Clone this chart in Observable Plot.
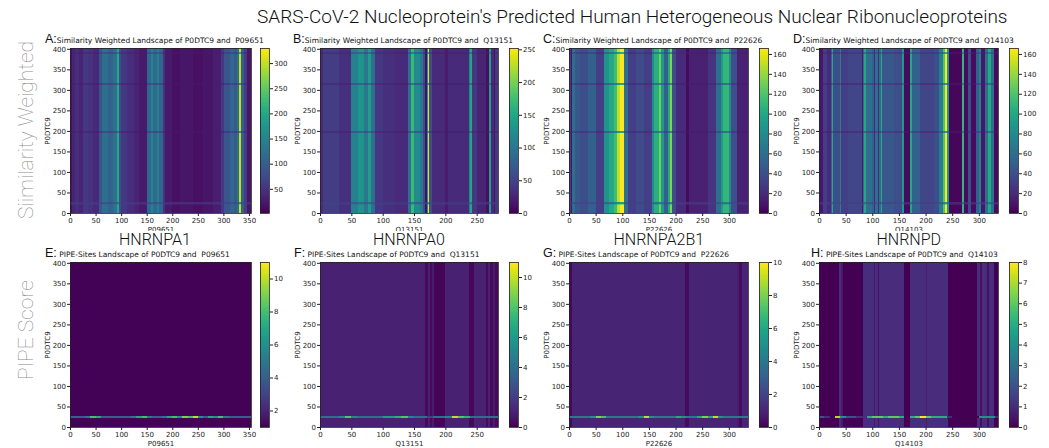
<!DOCTYPE html>
<html><head><meta charset="utf-8">
<script src="https://cdn.jsdelivr.net/npm/d3@7"></script>
<script src="https://cdn.jsdelivr.net/npm/@observablehq/plot@0.6"></script>
<style>
body{margin:0;background:#fff;}
#fig{position:relative;width:1049px;height:448px;overflow:hidden;background:#fff;}
#fig svg{position:absolute;}
.txt{position:absolute;white-space:pre;color:#111;}
.main{font-family:Roboto,"Liberation Sans",sans-serif;font-weight:300;font-size:19px;}
.row{font-family:Roboto,"Liberation Sans",sans-serif;font-weight:100;font-size:21px;color:#8a8a8a;transform-origin:0 0;}
.gene{font-family:Roboto,"Liberation Sans",sans-serif;font-weight:300;font-size:16px;}
.pt{display:flex;align-items:baseline;}
.pt .l{font-family:"Liberation Sans",sans-serif;font-size:12.5px;}
.pt .s{font-family:"DejaVu Sans",sans-serif;font-size:7.5px;}
</style></head><body><div id="fig"></div>
<script>
// ---------- data ----------
const mainTitle = "SARS-CoV-2 Nucleoprotein's Predicted Human Heterogeneous Nuclear Ribonucleoproteins";
const rowLabels = ["Siimilarity Weighted", "PIPE Score"];
const query = "P0DTC9";
const proteins = ["P09651", "Q13151", "P22626", "Q14103"];
const genes = ["HNRNPA1", "HNRNPA0", "HNRNPA2B1", "HNRNPD"];
const topLetters = ["A:", "B:", "C:", "D:"];
const botLetters = ["E:", "F:", "G:", "H:"];
const xExtent = [354, 284, 336, 336];
const yExtent = 402;
const xTickSets = [[0,50,100,150,200,250,300,350],[0,50,100,150,200,250],[0,50,100,150,200,250,300],[0,50,100,150,200,250,300]];
const yTicks = [0,50,100,150,200,250,300,350,400];

// similarity weighted: column segments [x1, x2, value]
const swA = [[0,4,15],[4,10,35],[10,18,45],[18,25,35],[25,35,55],[35,45,50],[45,57,40],[57,62,90],[62,75,120],[75,85,105],[85,92,125],[92,95,200],[95,99,80],[99,112,55],[112,125,45],[125,135,35],[135,150,25],[150,158,110],[158,163,150],[163,170,115],[170,175,145],[175,181,110],[181,186,50],[186,200,25],[200,215,15],[215,240,20],[240,260,15],[260,280,20],[280,295,30],[295,302,55],[302,312,90],[312,320,110],[320,326,95],[326,331,120],[331,335,300],[335,340,100],[340,346,60],[346,354,20]];
const swB = [[0,5,30],[5,30,45],[30,50,35],[50,60,110],[60,70,130],[70,76,100],[76,82,140],[82,88,90],[88,100,40],[100,120,35],[120,140,30],[140,145,90],[145,150,170],[150,160,120],[160,165,100],[165,168,60],[168,170,8],[170,172,120],[172,174,240],[174,178,60],[178,200,30],[200,205,18],[205,238,30],[238,240,110],[240,243,150],[243,250,40],[250,265,25],[265,270,10],[270,273,140],[273,278,30],[278,280,12],[280,284,40]];
const swC = [[0,3,30],[3,6,8],[6,12,60],[12,20,45],[20,35,40],[35,50,50],[50,65,30],[65,75,85],[75,85,100],[85,90,115],[90,95,150],[95,103,165],[103,110,60],[110,125,30],[125,140,38],[140,155,30],[155,160,80],[160,168,105],[168,172,130],[172,178,90],[178,185,50],[185,190,100],[190,194,135],[194,200,40],[200,220,20],[220,225,5],[225,260,15],[260,275,25],[275,285,60],[285,290,90],[290,300,110],[300,305,80],[305,315,40],[315,336,15]];
const swD = [[0,8,10],[8,15,30],[15,22,20],[22,25,50],[25,27,100],[27,40,40],[40,42,70],[42,55,30],[55,80,35],[80,82,10],[82,85,60],[85,88,100],[88,100,60],[100,103,50],[103,106,20],[106,110,60],[110,113,20],[113,117,60],[117,119,100],[119,140,45],[140,155,40],[155,160,90],[160,170,5],[170,175,100],[175,190,50],[190,215,35],[215,225,40],[225,233,70],[233,237,120],[237,241,165],[241,244,90],[244,268,3],[268,272,110],[272,280,5],[280,285,40],[285,295,5],[295,300,50],[300,305,70],[305,312,10],[312,318,60],[318,322,100],[322,328,60],[328,336,5]];
// horizontal row structure for the top row: [y1, y2, scale, offset (fraction of max)]
const swRows = [[0,20,1,0],[20,22,0.8,0.05],[22,27,0.45,0.1],[27,195,1,0],[195,199,0.55,0.03],[199,313,1,0],[313,317,0.55,0.03],[317,388,1,0],[388,392,0.6,0.03],[392,402,1,0]];
const swColor = [[2,330],[0,252],[0,166],[0,166]];
const swCbTicks = [[50,100,150,200,250,300],[0,50,100,150,200,250],[0,20,40,60,80,100,120,140,160],[0,20,40,60,80,100,120,140,160]];

// PIPE sites: background column segments [x1, x2, value]
const bgE = [[0,354,1.07]];
const bgF = [[0,167,1],[167,172,0.3],[172,175,1],[175,178,0.3],[178,182,0.8],[182,200,0.1],[200,238,1],[238,245,0.2],[245,265,1],[265,268,0.3],[268,272,1],[272,276,0.3],[276,280,0.8],[280,284,0.3]];
const bgG = [[0,5,0.2],[5,218,1],[218,226,0.3],[226,315,1],[315,320,0.8],[320,325,0.3],[325,336,1]];
const bgH = [[0,38,0],[38,42,1],[42,45,0.5],[45,83,0],[83,103,1],[103,106,0.5],[106,110,1],[110,113,0.4],[113,160,1],[160,170,0],[170,200,1],[200,202,0.6],[202,243,1],[243,297,0],[297,303,1],[303,306,0.3],[306,315,1],[315,320,0.3],[320,328,1],[328,336,0]];
// PIPE sites: the bright band near P0DTC9 residue ~24, in 10-residue bins
const bandE = [4,4,4,5,8,7,4,4,4,4,4,4,5,7,8,5,4,4,5,7,8,6,9,8,10,6,4,7,6,8,5,4,4,4,4,4];
const bandF = [4,4,4,5,8,5,4,4,4,4,6,6,7,8,5,4,4,2,4,4,5,10,8,7,4,4,4,4,4];
const bandG = [4,4,4,4,5,8,7,4,4,4,4,4,4,5,9,5,4,4,4,4,6,5,4,4,6,8,6,9,5,4,4,4,4,4];
const bandH = [2,1,0,7,4,2,2,1,1,5,6,6,5,6,6,5,0,5,6,8,6,5,5,5,1,0,0,0,0,0,4,4,4,1];
const bandRows = [22, 27];
const pipeColor = [[1,11],[0,11],[0,10],[0,8]];
const pipeCbTicks = [[2,4,6,8,10],[0,2,4,6,8,10],[0,2,4,6,8,10],[0,1,2,3,4,5,6,7,8]];

// ---------- layout ----------
const fig = document.getElementById("fig");
const frameX = [70, 320, 569, 819];
const frameW = [181, 178, 179, 179];
const svgLeft = [40, 292, 535, 788];
const cbX = [260, 509, 759, 1009];
const frameTop = [48, 262];
const frameH = 165;
const svgTop = [33, 231];
const axisFont = {fontFamily: "DejaVu Sans", fontSize: "7px", color: "#222", background: "#fff"};

function place(el, left, top) { el.style.left = left + "px"; el.style.top = top + "px"; fig.appendChild(el); }

function heat(i, row, cells) {
  const ml = frameX[i] - svgLeft[i], mt = frameTop[row] - svgTop[row], mb = 22, mr = 8;
  const svg = Plot.plot({
    width: ml + frameW[i] + mr, height: mt + frameH + mb,
    marginLeft: ml, marginTop: mt, marginRight: mr, marginBottom: mb,
    style: axisFont,
    x: {domain: [0, xExtent[i]], ticks: xTickSets[i], tickSize: 3, tickPadding: 1.5, label: proteins[i], labelAnchor: "center", labelArrow: "none", labelOffset: 18},
    y: {domain: [0, yExtent], ticks: yTicks, tickSize: 3, tickPadding: 1.5, label: query, labelAnchor: "center", labelArrow: "none", labelOffset: 25},
    color: {type: "linear", scheme: "viridis", domain: row === 0 ? swColor[i] : pipeColor[i], clamp: true},
    marks: [
      Plot.rect(cells, {x1: "x1", x2: "x2", y1: "y1", y2: "y2", fill: "v", shapeRendering: "crispEdges"}),
      Plot.frame({stroke: "#222", strokeWidth: 0.8})
    ]
  });
  place(svg, svgLeft[i], svgTop[row]);
}

function cbar(i, row, domain, ticks) {
  const n = 200, mt = 5, mb = 5;
  const steps = d3.range(n).map(k => {
    const a = domain[0] + (domain[1] - domain[0]) * k / n, b = domain[0] + (domain[1] - domain[0]) * (k + 1) / n;
    return {a, b, m: (a + b) / 2};
  });
  const svg = Plot.plot({
    width: 9 + 28, height: frameH + mt + mb, marginLeft: 0, marginRight: 28, marginTop: mt, marginBottom: mb,
    style: {...axisFont, background: "transparent"},
    x: {axis: null, domain: [0, 1]},
    y: {domain, axis: "right", ticks, tickSize: 3, tickPadding: 1.5, label: null},
    color: {type: "linear", scheme: "viridis", domain},
    marks: [
      Plot.rect(steps, {x1: 0, x2: 1, y1: "a", y2: "b", fill: "m", shapeRendering: "crispEdges"}),
      Plot.frame({stroke: "#222", strokeWidth: 0.8})
    ]
  });
  place(svg, cbX[i], frameTop[row] - mt);
}

const swSegs = [swA, swB, swC, swD];
const bgSegs = [bgE, bgF, bgG, bgH];
const bands = [bandE, bandF, bandG, bandH];

for (const row of [0, 1]) {
  for (let i = 0; i < 4; i++) {
    let cells = [];
    if (row === 0) {
      const mx = swColor[i][1];
      for (const [x1, x2, v] of swSegs[i]) for (const [y1, y2, k, off] of swRows) cells.push({x1, x2, y1, y2, v: v * k + off * mx});
    } else {
      for (const [x1, x2, v] of bgSegs[i]) cells.push({x1, x2, y1: 0, y2: yExtent, v});
      bands[i].forEach((v, b) => cells.push({x1: b * 10, x2: Math.min(b * 10 + 10, xExtent[i]), y1: bandRows[0], y2: bandRows[1], v}));
    }
    heat(i, row, cells);
    cbar(i, row, row === 0 ? swColor[i] : pipeColor[i], row === 0 ? swCbTicks[i] : pipeCbTicks[i]);
  }
}

// ---------- texts ----------
function text(cls, str, left, top) { const d = document.createElement("div"); d.className = "txt " + cls; d.textContent = str; place(d, left, top); return d; }

const t = text("main", mainTitle, 0, 5);
t.style.left = (632 - t.offsetWidth / 2) + "px";

const rowCenters = [130, 330];
rowLabels.forEach((s, r) => {
  const d = text("row", s, 0, 0);
  const w = d.offsetWidth, h = d.offsetHeight;
  d.style.left = (26 - h / 2) + "px";
  d.style.top = (rowCenters[r] + w / 2) + "px";
  d.style.transform = "rotate(-90deg)";
});

const geneCenters = [155, 409, 659, 909];
genes.forEach((g, i) => { const d = text("gene", g, 0, 230); d.style.left = (geneCenters[i] - d.offsetWidth / 2) + "px"; });

const topTitleX = [45, 293, 543, 793];
const botTitleX = [45, 294, 543, 811];
function panelTitle(letter, str, left, top) {
  const d = document.createElement("div"); d.className = "txt pt";
  const a = document.createElement("span"); a.className = "l"; a.textContent = letter;
  const b = document.createElement("span"); b.className = "s"; b.textContent = str;
  d.appendChild(a); d.appendChild(b); place(d, left, top);
}
for (let i = 0; i < 4; i++) {
  panelTitle(topLetters[i], "Similarity Weighted Landscape of " + query + " and  " + proteins[i], topTitleX[i], 32);
  panelTitle(botLetters[i], " PIPE-Sites Landscape of " + query + " and  " + proteins[i], botTitleX[i], 246);
}
</script></body></html>
